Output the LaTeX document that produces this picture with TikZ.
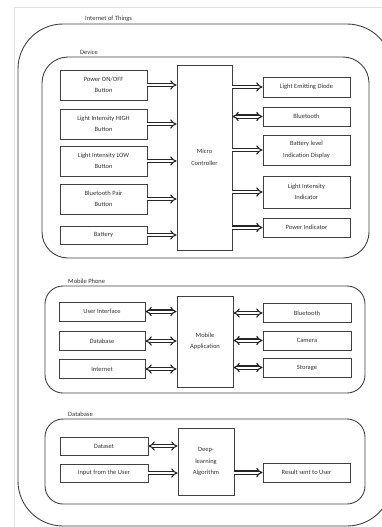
\documentclass[tikz,border=0pt]{standalone}
\usepackage{fontspec}
\setmainfont{Carlito}
\usetikzlibrary{arrows.meta}

\tikzset{
  blk/.style={draw=black!75, line width=0.9pt, align=center, inner sep=1pt,
    font=\fontsize{6.5}{11.5}\selectfont, text=black!80},
  grp/.style={draw=black!75, line width=0.9pt},
  lbl/.style={anchor=south west, inner sep=0pt, font=\fontsize{6.5}{8}\selectfont, text=black!80},
  oneway/.style={draw=black!85, double=white, double distance=2pt, line width=1.1pt, -{Implies}},
  twoway/.style={oneway, {Implies}-{Implies}}
}

\begin{document}
\begin{tikzpicture}[x=1pt,y=-1pt]
\useasboundingbox (0,0) rectangle (382,527);
\clip (0,0) rectangle (382,527);

\draw[black!12, line width=0.6pt] (14,527) -- (14,7) -- (382,7);

% outer frame
\draw[grp, rounded corners=45pt] (18,24) rectangle (392,526);
\node[lbl] (iot) at (85,22) {Internet of Things};

% device
\draw[grp, rounded corners=26pt] (42,57) rectangle (369,258);
\node[lbl] (devlbl) at (80,55) {Device};

\node[blk, minimum width=87pt, minimum height=30pt] (pwr) at (103.5,85) {Power ON/OFF\\Button};
\node[blk, minimum width=87pt, minimum height=30pt] (high) at (103.5,124) {Light Intensity HIGH\\Button};
\node[blk, minimum width=87pt, minimum height=30pt] (low) at (103.5,161) {Light Intensity LOW\\Button};
\node[blk, minimum width=87pt, minimum height=30pt] (pair) at (103.5,199) {Bluetooth Pair\\Button};
\node[blk, minimum width=87pt, minimum height=18pt] (bat) at (103.5,235) {Battery};

\node[blk, minimum width=55pt, minimum height=185pt] (mc) at (204.5,157.5) {Micro\\Controller};

\node[blk, minimum width=87pt, minimum height=20pt] (led) at (306.5,87) {Light Emitting Diode};
\node[blk, minimum width=87pt, minimum height=19pt] (bt) at (306.5,116.5) {Bluetooth};
\node[blk, minimum width=87pt, minimum height=30pt] (lvl) at (306.5,150) {Battery level\\Indication Display};
\node[blk, minimum width=87pt, minimum height=32pt] (lint) at (306.5,192) {Light Intensity\\Indicator};
\node[blk, minimum width=87pt, minimum height=19pt] (pind) at (306.5,227.5) {Power Indicator};

\foreach \n in {pwr,high,low,pair,bat}
  \draw[oneway] (\n.east) -- (\n.east -| mc.west);
\foreach \n in {led,lvl,lint,pind}
  \draw[oneway] (\n.west -| mc.east) -- (\n.west);
\draw[twoway] (bt.west -| mc.east) -- (bt.west);

% mobile phone
\draw[grp, rounded corners=18pt] (45,286) rectangle (365,393);
\node[lbl] (moblbl) at (68,284) {Mobile Phone};

\node[blk, minimum width=86pt, minimum height=19pt] (ui) at (102,311.5) {User Interface};
\node[blk, minimum width=86pt, minimum height=19pt] (db) at (102,341) {Database};
\node[blk, minimum width=86pt, minimum height=19pt] (net) at (102,369) {Internet};

\node[blk, minimum width=56pt, minimum height=91pt] (app) at (205,341.5) {Mobile\\Application};

\node[blk, minimum width=88pt, minimum height=19pt] (bt2) at (307,313) {Bluetooth};
\node[blk, minimum width=88pt, minimum height=19pt] (cam) at (307,340.5) {Camera};
\node[blk, minimum width=88pt, minimum height=19pt] (sto) at (307,367.5) {Storage};

\foreach \n in {ui,db,net}
  \draw[twoway] (\n.east) -- (\n.east -| app.west);
\foreach \n in {bt2,cam,sto}
  \draw[twoway] (\n.west -| app.east) -- (\n.west);

% database
\draw[grp, rounded corners=18pt] (45,419) rectangle (365,504);
\node[lbl] (dblbl) at (68,417) {Database};

\node[blk, minimum width=88pt, minimum height=18pt] (data) at (104,446) {Dataset};
\node[blk, minimum width=88pt, minimum height=18pt] (inp) at (104,473) {Input from the User};
\node[blk, minimum width=56pt, minimum height=67pt] (alg) at (206,461.5) {Deep-\\learning\\Algorithm};
\node[blk, minimum width=87pt, minimum height=19pt] (res) at (306.5,472.5) {Result sent to User};

\draw[twoway] (data.east) -- (data.east -| alg.west);
\draw[oneway] (inp.east) -- (inp.east -| alg.west);
\draw[oneway] (res.west -| alg.east) -- (res.west);
\end{tikzpicture}
\end{document}
